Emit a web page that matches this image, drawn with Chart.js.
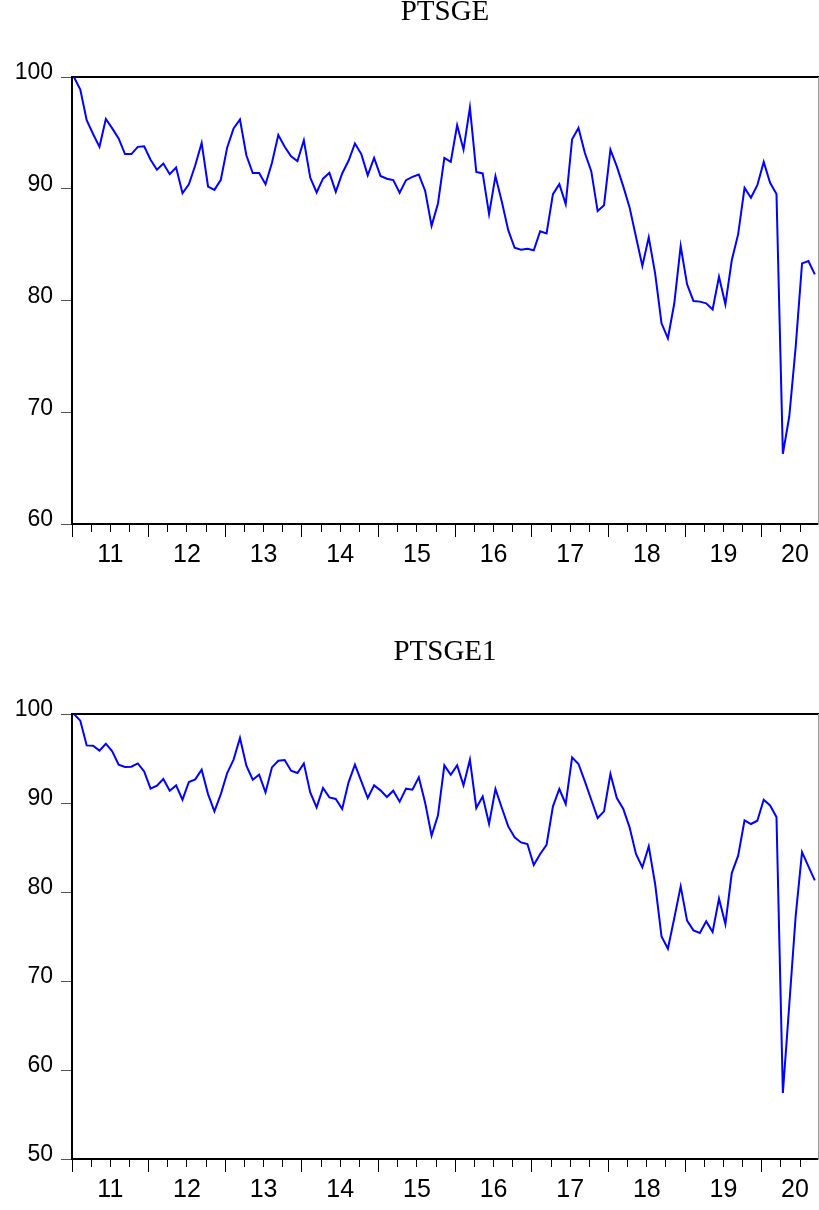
<!DOCTYPE html>
<html>
<head>
<meta charset="utf-8">
<script src="https://cdn.jsdelivr.net/npm/chart.js@4.4.1/dist/chart.umd.min.js"></script>
<style>
html,body{margin:0;padding:0;background:#fff;width:819px;height:1210px;overflow:hidden;}
canvas{position:absolute;left:0;}
#c1{top:0;}
#c2{top:600px;}
</style>
</head>
<body>
<canvas id="c1" width="819" height="600"></canvas>
<canvas id="c2" width="819" height="610"></canvas>
<script>
// ---- data ----
const startYear = 2011;
const months = [];
for (let i = 0; i < 117; i++) {
  const y = startYear + Math.floor(i / 12), m = (i % 12) + 1;
  months.push(y + 'M' + (m < 10 ? '0' + m : m));
}

const ptsge = [
  100.0, 98.87, 96.13, 94.9, 93.75, 96.25, 95.4, 94.5, 93.1, 93.1, 93.75, 93.8,
  92.6, 91.7, 92.25, 91.3, 91.9, 89.6, 90.4, 92.1, 94.1, 90.2, 89.9, 90.8,
  93.7, 95.4, 96.2, 93.0, 91.4, 91.4, 90.4, 92.3, 94.8, 93.75, 92.9, 92.47,
  94.34, 91.0, 89.67, 90.9, 91.42, 89.72, 91.37, 92.5, 94.05, 93.1, 91.2, 92.76,
  91.15, 90.9, 90.77, 89.64, 90.77, 91.06, 91.27, 89.8, 86.68, 88.68, 92.76, 92.4,
  95.68, 93.5, 97.26, 91.5, 91.37, 87.73, 91.13, 88.83, 86.3, 84.72, 84.54, 84.63,
  84.49, 86.2, 86.0, 89.52, 90.41, 88.62, 94.43, 95.44, 93.2, 91.57, 88.0, 88.53,
  93.5, 92.0, 90.23, 88.33, 85.7, 83.1, 85.65, 82.43, 77.96, 76.62, 79.75, 84.87,
  81.45, 79.96, 79.9, 79.75, 79.2, 82.13, 79.66, 83.6, 85.94, 90.08, 89.19, 90.32,
  92.4, 90.53, 89.52, 66.28, 69.62, 75.8, 83.32, 83.53, 82.34
];

const ptsge1 = [
  100.0, 99.25, 96.47, 96.43, 95.88, 96.66, 95.8, 94.3, 94.04, 94.08, 94.45, 93.55,
  91.61, 91.94, 92.7, 91.38, 91.98, 90.37, 92.36, 92.65, 93.74, 91.0, 89.06, 91.0,
  93.37, 94.87, 97.3, 94.19, 92.62, 93.18, 91.19, 94.0, 94.75, 94.83, 93.63, 93.37,
  94.45, 91.19, 89.51, 91.68, 90.63, 90.45, 89.33, 92.32, 94.3, 92.43, 90.56, 91.98,
  91.42, 90.67, 91.38, 90.15, 91.61, 91.5, 92.88, 90.0, 86.33, 88.61, 94.23, 93.18,
  94.23, 91.98, 94.87, 89.44, 90.74, 87.67, 91.57, 89.44, 87.37, 86.14, 85.57, 85.39,
  83.03, 84.27, 85.31, 89.62, 91.57, 89.89, 95.13, 94.38, 92.43, 90.37, 88.31, 89.06,
  93.26, 90.56, 89.36, 87.26, 84.27, 82.77, 85.13, 80.9, 75.01, 73.63, 77.08, 80.63,
  76.78, 75.69, 75.39, 76.7, 75.5, 79.25, 76.4, 82.13, 84.08, 88.05, 87.64, 88.01,
  90.37, 89.73, 88.43, 57.42, 67.3, 77.26, 84.49, 82.88, 81.3
];

const yearLabels = ['11', '12', '13', '14', '15', '16', '17', '18', '19', '20'];
const yTicksTop = [60, 70, 80, 90, 100];
const yTicksBottom = [50, 60, 70, 80, 90, 100];

// ---- layout / style ----
const X_MIN = -0.3, X_MAX = 116.5;

function buildXTicks() {
  const t = [];
  for (let q = 0; ; q++) {
    const v = X_MIN + 3 * q;
    if (v > X_MAX) break;
    t.push({ value: v, kind: q % 4 === 0 ? 'major' : 'minor' });
  }
  yearLabels.forEach((lab, k) => {
    const v = Math.min(X_MIN + 12 * k + 6, X_MAX - 3.6);
    t.push({ value: v, kind: 'label', lab: lab });
  });
  t.sort((a, b) => a.value - b.value);
  return t;
}

function makeChart(canvas, title, values, yTicks, topH, bottomH, titlePadTop) {
  const pts = months.map((m, i) => ({ x: i, y: values[i] }));
  return new Chart(canvas, {
    type: 'line',
    data: {
      datasets: [{
        label: title,
        data: pts,
        borderColor: '#0000FF',
        borderWidth: 2,
        pointRadius: 0,
        pointHoverRadius: 0,
        tension: 0,
        fill: false,
        xAxisID: 'x',
        yAxisID: 'y'
      }]
    },
    options: {
      responsive: false,
      animation: false,
      devicePixelRatio: 1,
      events: [],
      layout: { padding: 0, autoPadding: false },
      plugins: { legend: { display: false }, title: { display: false }, tooltip: { enabled: false } },
      scales: {
        x: {
          type: 'linear', position: 'bottom', min: X_MIN, max: X_MAX,
          afterBuildTicks: s => { s.ticks = buildXTicks(); },
          afterFit: s => { s.height = bottomH; },
          border: { display: true, color: '#000', width: 2 },
          grid: {
            drawOnChartArea: false, drawTicks: true, tickLength: 13,
            tickColor: '#000',
            tickWidth: c => (c.tick && c.tick.kind === 'label') ? 0 : 1,
            tickBorderDash: c => (c.tick && c.tick.kind === 'minor') ? [7, 60] : []
          },
          ticks: {
            autoSkip: false, maxRotation: 0, minRotation: 0, padding: 3,
            color: '#000',
            font: { family: 'Liberation Sans', size: 25 },
            callback: (v, i, ticks) => ticks[i].lab || ''
          }
        },
        x2: {
          type: 'linear', position: 'top', min: X_MIN, max: X_MAX, display: true,
          afterFit: s => { s.height = topH; },
          border: { display: true, color: '#000', width: 2 },
          grid: { display: false, drawTicks: false },
          ticks: { display: false },
          title: {
            display: true, text: title, color: '#000',
            font: { family: 'Liberation Serif', size: 29, lineHeight: 0.93 },
            padding: { top: titlePadTop, bottom: 0 }
          }
        },
        y: {
          type: 'linear', position: 'left',
          min: yTicks[0], max: yTicks[yTicks.length - 1],
          afterBuildTicks: s => { s.ticks = yTicks.map(v => ({ value: v })); },
          afterFit: s => { s.width = 72; },
          border: { display: true, color: '#000', width: 2 },
          grid: { drawOnChartArea: false, drawTicks: true, tickLength: 11, tickColor: '#555', tickWidth: 1 },
          ticks: {
            padding: 8, labelOffset: -4, color: '#000',
            font: { family: 'Liberation Sans', size: 23 },
            callback: v => String(v)
          }
        },
        y2: {
          type: 'linear', position: 'right', display: true,
          min: yTicks[0], max: yTicks[yTicks.length - 1],
          afterFit: s => { s.width = 1; },
          border: { display: true, color: '#999', width: 1 },
          grid: { display: false, drawTicks: false },
          ticks: { display: false }
        }
      }
    }
  });
}

makeChart(document.getElementById('c1'), 'PTSGE', ptsge, yTicksTop, 77, 76, -1);
makeChart(document.getElementById('c2'), 'PTSGE1', ptsge1, yTicksBottom, 114, 51, 39);
</script>
</body>
</html>
